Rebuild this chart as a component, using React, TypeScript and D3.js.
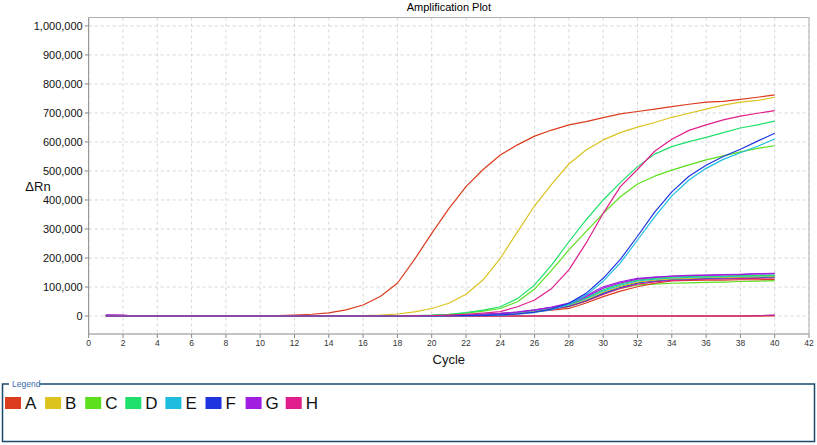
import React from "react";
import * as d3 from "d3";

const cycles = d3.range(1, 41);
const sampleNames = ["A", "B", "C", "D", "E", "F", "G", "H"];
const sampleColors = ["#dc3c1e", "#dcc31e", "#5ce01e", "#1ee06a", "#1ebde0", "#1e34e0", "#a01ee0", "#e01e8c"];
const yTicks = d3.range(0, 1000001, 100000);
const xTicks = d3.range(0, 43, 2);

// high-template wells (cycles 1..40)
const highA = [0, 0, 0, 0, 0, 0, 0, 0, 0, 0, 1000, 3000, 6000, 11000, 21000, 38000, 67000, 113000, 195000, 285000, 370000, 446000, 505000, 555000, 590000, 620000, 641000, 659000, 670000, 684000, 697000, 705000, 713000, 722000, 730000, 737000, 740000, 747000, 754000, 762000];
const highB = [0, 0, 0, 0, 0, 0, 0, 0, 0, 0, 0, 0, 0, 0, 500, 1000, 3000, 7000, 14000, 26000, 44000, 75000, 125000, 199000, 290000, 380000, 455000, 524000, 572000, 607000, 632000, 651000, 667000, 685000, 699000, 713000, 727000, 737000, 743000, 754000];
const highC = [0, 0, 0, 0, 0, 0, 0, 0, 0, 0, 0, 0, 0, 0, 0, 0, 0, 500, 1000, 2000, 5000, 10000, 17000, 26000, 49000, 93000, 158000, 228000, 291000, 354000, 411000, 455000, 482000, 503000, 521000, 538000, 552000, 566000, 578000, 587000];
const highD = [0, 0, 0, 0, 0, 0, 0, 0, 0, 0, 0, 0, 0, 0, 0, 0, 0, 500, 1500, 3000, 6000, 12000, 20000, 32000, 60000, 107000, 176000, 256000, 331000, 400000, 460000, 515000, 558000, 584000, 601000, 616000, 632000, 648000, 659000, 672000];
const highE = [0, 0, 0, 0, 0, 0, 0, 0, 0, 0, 0, 0, 0, 0, 0, 0, 0, 0, 0, 500, 1000, 1500, 2000, 3000, 6000, 12000, 22000, 40000, 72000, 120000, 183000, 262000, 342000, 414000, 469000, 509000, 540000, 563000, 585000, 610000];
const highF = [0, 0, 0, 0, 0, 0, 0, 0, 0, 0, 0, 0, 0, 0, 0, 0, 0, 0, 0, 500, 1000, 1500, 2500, 4000, 7000, 13000, 24000, 44000, 78000, 130000, 195000, 275000, 358000, 428000, 482000, 520000, 550000, 575000, 603000, 630000];
const highG = [3000, 2000, 0, 0, 0, 0, 0, 0, 0, 0, 0, 0, 0, 0, 0, 0, 0, 0, 0, 1000, 2000, 3500, 6000, 9000, 14000, 21000, 31000, 45000, 70000, 101000, 118000, 130000, 134000, 138000, 140000, 141000, 143000, 144000, 146000, 147000];
const highH = [0, 0, 0, 0, 0, 0, 0, 0, 0, 0, 0, 0, 0, 0, 0, 0, 0, 0, 500, 1000, 3000, 6000, 10000, 15000, 32000, 55000, 95000, 159000, 251000, 354000, 446000, 505000, 568000, 609000, 640000, 659000, 676000, 689000, 699000, 708000];

// low-template wells
const lowA = [0, 0, 0, 0, 0, 0, 0, 0, 0, 0, 0, 0, 0, 0, 0, 0, 0, 0, 0, 500, 1000, 2000, 3500, 6000, 10000, 15000, 20000, 26000, 45000, 67000, 86000, 101000, 113000, 121000, 123000, 124000, 124000, 125000, 125000, 126000];
const lowB = [0, 0, 0, 0, 0, 0, 0, 0, 0, 0, 0, 0, 0, 0, 0, 0, 0, 0, 0, 1000, 2000, 3000, 5000, 8000, 12000, 18000, 27000, 37000, 56000, 82000, 102000, 117000, 124000, 128000, 130000, 132000, 133000, 134000, 135000, 136000];
const lowC = [0, 0, 0, 0, 0, 0, 0, 0, 0, 0, 0, 0, 0, 0, 0, 0, 0, 0, 0, 1000, 2000, 3000, 5000, 8000, 12000, 17000, 24000, 32000, 52000, 78000, 95000, 107000, 110000, 113000, 114000, 116000, 117000, 119000, 120000, 122000];
const lowD = [0, 0, 0, 0, 0, 0, 0, 0, 0, 0, 0, 0, 0, 0, 0, 0, 0, 0, 0, 1000, 2000, 3000, 5000, 8000, 13000, 20000, 29000, 40000, 62000, 90000, 110000, 124000, 130000, 134000, 136000, 137000, 138000, 139000, 140000, 141000];
const lowE = [0, 0, 0, 0, 0, 0, 0, 0, 0, 0, 0, 0, 0, 0, 0, 0, 0, 0, 0, 1000, 2000, 3000, 5000, 8000, 12000, 19000, 28000, 39000, 60000, 86000, 106000, 121000, 127000, 131000, 133000, 135000, 136000, 137000, 138000, 139000];
const lowF = [0, 0, 0, 0, 0, 0, 0, 0, 0, 0, 0, 0, 0, 0, 0, 0, 0, 0, 0, 1000, 2000, 3000, 5000, 7000, 11000, 17000, 25000, 35000, 54000, 78000, 99000, 114000, 121000, 126000, 128000, 130000, 131000, 132000, 133000, 134000];
const lowG = [0, 0, 0, 0, 0, 0, 0, 0, 0, 0, 0, 0, 0, 0, 0, 0, 0, 0, 0, 1000, 2000, 3000, 5000, 8000, 13000, 20000, 30000, 42000, 66000, 96000, 114000, 127000, 133000, 137000, 139000, 140000, 142000, 143000, 145000, 146000];
const lowH = [0, 0, 0, 0, 0, 0, 0, 0, 0, 0, 0, 0, 0, 0, 0, 0, 0, 0, 0, 1000, 1500, 2500, 4000, 7000, 11000, 16000, 23000, 33000, 51000, 74000, 95000, 110000, 118000, 123000, 125000, 127000, 128000, 129000, 130000, 131000];

// no-template wells
const ntcA = [0, 0, 0, 0, 0, 0, 0, 0, 0, 0, 0, 0, 0, 0, 0, 0, 0, 0, 0, 0, 0, 0, 0, 0, 0, 0, 0, 0, 0, 0, 0, 0, 0, 0, 0, 0, 0, 0, 0, 0];
const ntcG = [3000, 2500, 0, 0, 0, 0, 0, 0, 0, 0, 0, 0, 0, 0, 0, 0, 0, 0, 0, 0, 0, 0, 0, 0, 0, 0, 0, 0, 0, 0, 0, 0, 0, 0, 0, 0, 0, 0, 1000, 3000];
const ntcH = [2500, 2000, 0, 0, 0, 0, 0, 0, 0, 0, 0, 0, 0, 0, 0, 0, 0, 0, 0, 0, 0, 0, 0, 0, 0, 0, 0, 0, 0, 0, 0, 0, 0, 0, 0, 0, 0, 0, 500, 2500];

const highSeries = [highA, highB, highC, highD, highE, highF, highG, highH];
const lowSeries = [lowA, lowB, lowC, lowD, lowE, lowF, lowG, lowH];

const W = 817;
const H = 445;
const left = 88.7;
const right = 809;
const top = 17.5;
const bottom = 334;

export default function App() {
  const x = d3.scaleLinear().domain([0, 42]).range([left, right]);
  const y = d3.scaleLinear().domain([-62000, 1029000]).range([bottom, top]);
  const line = d3
    .line<number>()
    .x((_, i) => x(cycles[i]))
    .y((d) => y(d));
  const fmt = d3.format(",");
  const font = "'Liberation Sans', Arial, sans-serif";

  const lines: { data: number[]; color: string; key: string }[] = [];
  lines.push({ data: ntcH, color: sampleColors[7], key: "nH" });
  lines.push({ data: ntcG, color: sampleColors[6], key: "nG" });
  lines.push({ data: ntcA, color: sampleColors[0], key: "nA" });
  [2, 0, 7, 5, 1, 4, 3, 6].forEach((i) => lines.push({ data: lowSeries[i], color: sampleColors[i], key: "l" + i }));
  [6, 0, 1, 2, 3, 4, 5, 7].forEach((i) => lines.push({ data: highSeries[i], color: sampleColors[i], key: "h" + i }));

  return (
    <svg width={W} height={H} style={{ position: "absolute", left: 0, top: 0, background: "#fff" }} fontFamily={font}>
      <rect x={0} y={0} width={W} height={H} fill="#fff" />
      <text x={(left + right) / 2} y={11} fontSize={11} textAnchor="middle" fill="#000">
        Amplification Plot
      </text>
      {xTicks.map((t) => (
        <line key={"gx" + t} x1={x(t)} x2={x(t)} y1={top} y2={bottom} stroke="#d6d6d6" strokeDasharray="3,3" strokeWidth={1} />
      ))}
      {yTicks.map((t) => (
        <line key={"gy" + t} x1={left} x2={right} y1={y(t)} y2={y(t)} stroke="#d6d6d6" strokeDasharray="3,3" strokeWidth={1} />
      ))}
      <line x1={left} x2={right} y1={top} y2={top} stroke="#b0b0b0" />
      <line x1={right} x2={right} y1={top} y2={bottom} stroke="#b0b0b0" />
      <line x1={left} x2={left} y1={top} y2={bottom} stroke="#888" />
      <line x1={left} x2={right} y1={bottom} y2={bottom} stroke="#888" />
      {yTicks.map((t) => (
        <g key={"ty" + t}>
          <line x1={left - 4} x2={left} y1={y(t)} y2={y(t)} stroke="#888" />
          <text x={left - 6} y={y(t) + 4} fontSize={11} textAnchor="end" fill="#111">
            {fmt(t)}
          </text>
        </g>
      ))}
      {xTicks.map((t) => (
        <g key={"tx" + t}>
          <line x1={x(t)} x2={x(t)} y1={bottom} y2={bottom + 4} stroke="#888" />
          <text x={x(t)} y={bottom + 12} fontSize={8.5} textAnchor="middle" fill="#333">
            {t}
          </text>
        </g>
      ))}
      <text x={(left + right) / 2} y={364} fontSize={13} textAnchor="middle" fill="#111">
        Cycle
      </text>
      <text x={38} y={191} fontSize={13} textAnchor="middle" fill="#111">
        ΔRn
      </text>
      <defs>
        <clipPath id="clip">
          <rect x={left} y={top} width={right - left} height={bottom - top} />
        </clipPath>
      </defs>
      <g clipPath="url(#clip)">
        {lines.map((l) => (
          <path key={l.key} d={line(l.data) || ""} fill="none" stroke={l.color} strokeWidth={1.2} strokeLinejoin="round" />
        ))}
      </g>
      <rect x={2.5} y={384} width={812} height={57.5} fill="none" stroke="#1b4a6e" strokeWidth={1.5} />
      <rect x={9} y={380} width={30} height={8} fill="#fff" />
      <text x={12} y={387} fontSize={8.5} fill="#3a6bb0">
        Legend
      </text>
      {sampleNames.map((n, i) => {
        const lx = 5 + i * 40.1;
        return (
          <g key={"lg" + n}>
            <rect x={lx} y={397} width={16} height={12} fill={sampleColors[i]} />
            <text x={lx + 20} y={409} fontSize={17} fill="#111">
              {n}
            </text>
          </g>
        );
      })}
    </svg>
  );
}
